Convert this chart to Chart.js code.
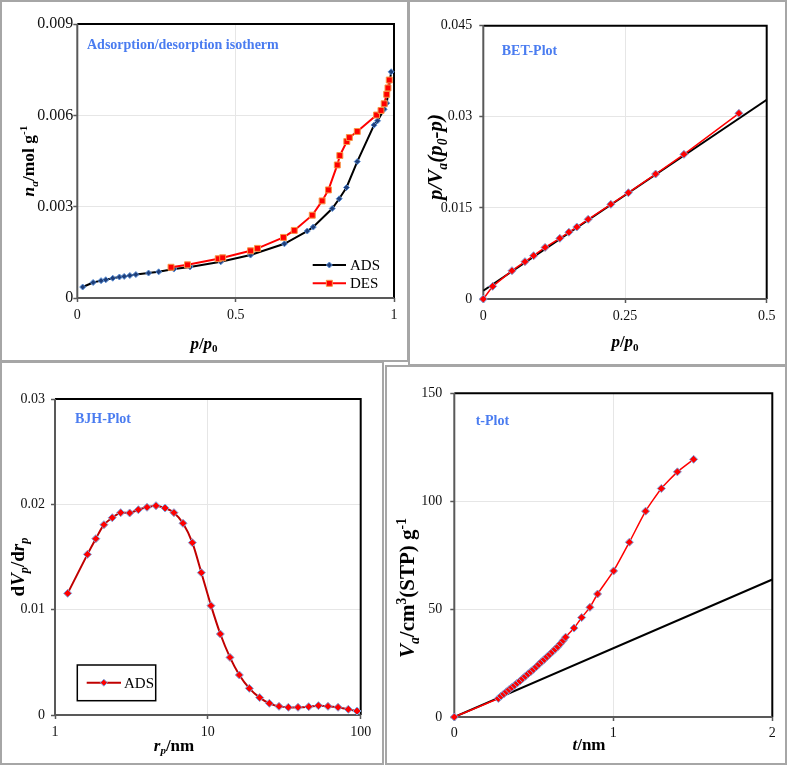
<!DOCTYPE html>
<html><head><meta charset="utf-8">
<script src="https://cdn.jsdelivr.net/npm/chart.js@4.4.1/dist/chart.umd.min.js"></script>
<style>
html,body{margin:0;padding:0;background:#fff;}
body{width:787px;height:765px;position:relative;overflow:hidden;}
canvas{position:absolute;left:0;top:0;}
.box{position:absolute;border:2px solid #a6a6a6;box-sizing:border-box;}
</style></head><body>
<div class="box" style="left:0;top:0;width:409px;height:362px"></div>
<div class="box" style="left:408px;top:0;width:379px;height:366px"></div>
<div class="box" style="left:0;top:361px;width:384px;height:404px"></div>
<div class="box" style="left:385px;top:365px;width:402px;height:400px"></div>
<canvas id="c1" width="787" height="765"></canvas>
<canvas id="c2" width="787" height="765"></canvas>
<canvas id="c3" width="787" height="765"></canvas>
<canvas id="c4" width="787" height="765"></canvas>
<script>
// ---------- DATA ----------
// Adsorption / desorption isotherm
const isoAdsX = [0.017,0.05,0.075,0.09,0.112,0.133,0.148,0.166,0.185,0.225,0.257,0.305,0.356,0.453,0.547,0.654,0.726,0.745,0.805,0.827,0.85,0.884,0.937,0.948,0.969,0.977,0.991];
const isoAdsY = [0.00036,0.00051,0.00057,0.0006,0.00065,0.00069,0.00071,0.00074,0.00077,0.00082,0.00086,0.00095,0.00102,0.00119,0.00141,0.00178,0.0022,0.00233,0.00294,0.00326,0.00363,0.00448,0.00568,0.00582,0.0062,0.0064,0.00743];
const isoDesX = [0.296,0.348,0.445,0.459,0.547,0.569,0.651,0.685,0.742,0.773,0.793,0.821,0.829,0.851,0.859,0.884,0.945,0.959,0.969,0.977,0.981,0.985];
const isoDesY = [0.00101,0.00109,0.00129,0.00132,0.00155,0.00163,0.00199,0.00222,0.00272,0.00319,0.00355,0.00437,0.00468,0.00514,0.00527,0.00547,0.00601,0.00616,0.00638,0.00669,0.0069,0.00716];
const isoXTicks = [0,0.5,1];
const isoXLabels = ['0','0.5','1'];
const isoYTicks = [0,0.003,0.006,0.009];
const isoYLabels = ['0','0.003','0.006','0.009'];

// BET plot
const betX = [0,0.0165,0.0506,0.0735,0.0888,0.109,0.135,0.151,0.165,0.185,0.225,0.256,0.304,0.354,0.451];
const betY = [0,0.00208,0.00466,0.00615,0.00713,0.0085,0.00999,0.0110,0.01185,0.01312,0.01559,0.0175,0.02058,0.02382,0.03057];
const betFitX = [0,0.5];
const betFitY = [0.00137,0.0328];
const betXTicks = [0,0.25,0.5];
const betXLabels = ['0','0.25','0.5'];
const betYTicks = [0,0.015,0.03,0.045];
const betYLabels = ['0','0.015','0.03','0.045'];

// BJH plot
const bjhR = [1.21,1.63,1.85,2.09,2.37,2.69,3.08,3.51,4.0,4.58,5.25,6.0,6.88,7.92,9.07,10.49,12.07,13.96,16.07,18.69,21.83,25.26,29.22,33.63,38.9,45.7,52.9,61.1,71.1,83.0,94.6];
const bjhDv = [0.01155,0.01525,0.01674,0.01807,0.01873,0.01921,0.01918,0.01949,0.01972,0.01987,0.01965,0.01921,0.0182,0.01636,0.01351,0.01038,0.00769,0.00547,0.0038,0.00253,0.00165,0.00111,0.00082,0.00073,0.00073,0.00079,0.00089,0.00082,0.00073,0.00054,0.00038];
const bjhXTicks = [1,10,100];
const bjhXLabels = ['1','10','100'];
const bjhYTicks = [0,0.01,0.02,0.03];
const bjhYLabels = ['0','0.01','0.02','0.03'];

// t-plot
const tT = [0,0.277,0.294,0.311,0.328,0.345,0.362,0.379,0.396,0.413,0.430,0.447,0.464,0.481,0.498,0.515,0.532,0.549,0.566,0.583,0.600,0.617,0.634,0.651,0.668,0.685,0.700,0.753,0.801,0.853,0.901,1.002,1.101,1.203,1.302,1.403,1.505];
const tV = [0,8.6,9.7,10.7,11.7,12.7,13.7,14.7,15.7,16.7,17.8,18.9,20.0,21.0,22.1,23.2,24.4,25.6,26.7,27.9,29.0,30.2,31.4,32.6,34.0,35.5,37.0,41.2,46.1,50.8,57.0,67.7,81.0,95.4,105.9,113.6,119.4];
const tFitX = [0,2];
const tFitY = [0,63.7];
const tXTicks = [0,1,2];
const tXLabels = ['0','1','2'];
const tYTicks = [0,50,100,150];
const tYLabels = ['0','50','100','150'];

// ---------- HELPERS ----------
const FONT = '"Liberation Serif","Times New Roman",serif';
const pts = (xs, ys) => xs.map((x, i) => ({x: x, y: ys[i]}));

function segFont(s, size) {
  const sz = (s.sub || s.sup) ? size * 0.65 : size;
  return (s.i ? 'italic ' : '') + (s.b === false ? '' : 'bold ') + sz + 'px ' + FONT;
}
function drawRich(ctx, segs, cx, cy, size, rot) {
  ctx.save();
  ctx.translate(cx, cy);
  if (rot) ctx.rotate(-Math.PI / 2);
  let w = 0;
  const ws = segs.map(s => { ctx.font = segFont(s, size); const m = ctx.measureText(s.t).width; w += m; return m; });
  let x = -w / 2;
  ctx.fillStyle = '#000';
  ctx.textBaseline = 'alphabetic';
  ctx.textAlign = 'left';
  segs.forEach((s, k) => {
    ctx.font = segFont(s, size);
    let dy = size * 0.33;
    if (s.sub) dy += size * 0.22;
    if (s.sup) dy -= size * 0.38;
    ctx.fillText(s.t, x, dy);
    x += ws[k];
  });
  ctx.restore();
}
function drawMarker(ctx, m, x, y) {
  ctx.save();
  ctx.fillStyle = m.fill; ctx.strokeStyle = m.stroke; ctx.lineWidth = 1;
  ctx.beginPath();
  if (m.style === 'rect') {
    ctx.rect(x - m.r, y - m.r, 2 * m.r, 2 * m.r);
  } else {
    ctx.moveTo(x, y - m.r); ctx.lineTo(x + m.r, y); ctx.lineTo(x, y + m.r); ctx.lineTo(x - m.r, y); ctx.closePath();
  }
  ctx.fill(); ctx.stroke();
  ctx.restore();
}

const deco = {
  id: 'deco',
  beforeDatasetsDraw(chart, args, o) {
    const ctx = chart.ctx, a = chart.chartArea;
    ctx.save();
    ctx.lineWidth = 2;
    ctx.strokeStyle = '#000';
    ctx.beginPath(); ctx.moveTo(a.left, a.top); ctx.lineTo(a.right, a.top); ctx.lineTo(a.right, a.bottom); ctx.stroke();
    ctx.strokeStyle = '#595959';
    ctx.beginPath(); ctx.moveTo(a.left, a.top); ctx.lineTo(a.left, a.bottom); ctx.lineTo(a.right, a.bottom); ctx.stroke();
    ctx.restore();
  },
  afterDraw(chart, args, o) {
    const ctx = chart.ctx;
    ctx.save();
    // title inside plot
    ctx.font = 'bold 14px ' + FONT;
    ctx.fillStyle = '#4a7cf0';
    ctx.textAlign = 'left'; ctx.textBaseline = 'middle';
    ctx.fillText(o.title.text, o.title.x, o.title.y);
    // axis titles
    drawRich(ctx, o.xTitle.segs, o.xTitle.x, o.xTitle.y, o.xTitle.size, false);
    drawRich(ctx, o.yTitle.segs, o.yTitle.x, o.yTitle.y, o.yTitle.size, true);
    // legend
    if (o.legendBox) {
      const b = o.legendBox;
      ctx.lineWidth = 1.5; ctx.strokeStyle = '#000';
      ctx.strokeRect(b.x, b.y, b.w, b.h);
    }
    (o.legend || []).forEach(it => {
      ctx.strokeStyle = it.color; ctx.lineWidth = it.lw;
      ctx.beginPath(); ctx.moveTo(it.x1, it.y); ctx.lineTo(it.x2, it.y); ctx.stroke();
      drawMarker(ctx, it.marker, (it.x1 + it.x2) / 2, it.y);
      ctx.font = '15px ' + FONT; ctx.fillStyle = '#000';
      ctx.textAlign = 'left'; ctx.textBaseline = 'middle';
      ctx.fillText(it.text, it.tx, it.y + 1);
    });
    ctx.restore();
  }
};

function axis(type, min, max, ticks, labels, isY, tl, pad, size) {
  return {
    type: type, min: min, max: max,
    afterBuildTicks: s => { s.ticks = ticks.map(v => ({value: v})); },
    afterFit: s => { if (isY) s.width = 50; else s.height = 50; },
    border: {display: false},
    grid: {
      color: c => (c.index > 0 && c.index < ticks.length - 1) ? '#e6e6e6' : 'rgba(0,0,0,0)',
      lineWidth: 1, drawTicks: true, tickLength: tl, tickColor: '#595959', tickWidth: 1.5
    },
    ticks: {
      padding: pad, color: '#111', font: {family: FONT, size: size},
      callback: (v, i) => labels[i], maxRotation: 0, autoSkip: false
    }
  };
}

function makeChart(id, rect, datasets, scales, decoOpts) {
  const W = 787, H = 765;
  return new Chart(document.getElementById(id), {
    type: 'scatter',
    data: {datasets: datasets},
    options: {
      responsive: false, animation: false, devicePixelRatio: 1, events: [],
      layout: {padding: {left: rect.L - 50, top: rect.T, right: W - rect.R, bottom: H - rect.B - 50}},
      scales: scales,
      plugins: {legend: {display: false}, tooltip: {enabled: false}, deco: decoOpts}
    },
    plugins: [deco]
  });
}

// ---------- PANEL 1 ----------
makeChart('c1', {L: 77.3, T: 24, R: 394, B: 298}, [
  {data: pts(isoDesX, isoDesY), showLine: true, borderColor: '#ff0000', borderWidth: 2,
   pointStyle: 'rect', pointRadius: 4.2, pointBackgroundColor: '#ff0000', pointBorderColor: '#f79646', pointBorderWidth: 1, clip: 8},
  {data: pts(isoAdsX, isoAdsY), showLine: true, borderColor: '#000', borderWidth: 2,
   pointStyle: 'rectRot', pointRadius: 3, pointBackgroundColor: '#1f3f7a', pointBorderColor: '#5b8fd6', pointBorderWidth: 1, clip: 8}
], {
  x: axis('linear', 0, 1, isoXTicks, isoXLabels, false, 4, 5, 14),
  y: axis('linear', 0, 0.009, isoYTicks, isoYLabels, true, 4, 0, 16)
}, {
  title: {text: 'Adsorption/desorption isotherm', x: 87, y: 45},
  xTitle: {x: 204, y: 343, size: 17, segs: [{t: 'p', i: 1}, {t: '/'}, {t: 'p', i: 1}, {t: '0', sub: 1}]},
  yTitle: {x: 28, y: 161, size: 17.5, segs: [{t: 'n', i: 1}, {t: 'a', i: 1, sub: 1}, {t: '/mol g'}, {t: '-1', sup: 1}]},
  legend: [
    {x1: 312.7, x2: 346, y: 265, color: '#000', lw: 2, text: 'ADS', tx: 350,
     marker: {style: 'diamond', r: 3, fill: '#1f3f7a', stroke: '#5b8fd6'}},
    {x1: 312.7, x2: 346, y: 283.3, color: '#ff0000', lw: 2, text: 'DES', tx: 350,
     marker: {style: 'rect', r: 3, fill: '#ff0000', stroke: '#f79646'}}
  ]
});

// ---------- PANEL 2 ----------
makeChart('c2', {L: 483.3, T: 25.7, R: 766.7, B: 299}, [
  {data: pts(betX, betY), showLine: true, borderColor: '#ff0000', borderWidth: 1.5,
   pointStyle: 'rectRot', pointRadius: 4, pointBackgroundColor: '#ff0000', pointBorderColor: '#7aa6e0', pointBorderWidth: 1, clip: 8},
  {data: pts(betFitX, betFitY), showLine: true, borderColor: '#000', borderWidth: 2, pointRadius: 0}
], {
  x: axis('linear', 0, 0.5, betXTicks, betXLabels, false, 4, 5, 14),
  y: axis('linear', 0, 0.045, betYTicks, betYLabels, true, 4, 7, 14)
}, {
  title: {text: 'BET-Plot', x: 501.7, y: 51.7},
  xTitle: {x: 625, y: 341.7, size: 17, segs: [{t: 'p', i: 1}, {t: '/'}, {t: 'p', i: 1}, {t: '0', sub: 1}]},
  yTitle: {x: 435, y: 157, size: 21, segs: [{t: 'p/V', i: 1}, {t: 'a', i: 1, sub: 1}, {t: '(p', i: 1}, {t: '0', i: 1, sub: 1}, {t: '-p)', i: 1}]}
});

// ---------- PANEL 3 ----------
makeChart('c3', {L: 55, T: 399, R: 360.7, B: 715}, [
  {data: pts(bjhR, bjhDv), showLine: true, borderColor: '#c00000', borderWidth: 2, tension: 0.25,
   pointStyle: 'rectRot', pointRadius: 4, pointBackgroundColor: '#ff0000', pointBorderColor: '#7aa6e0', pointBorderWidth: 1, clip: 8}
], {
  x: axis('logarithmic', 1, 100, bjhXTicks, bjhXLabels, false, 4, 5, 14),
  y: axis('linear', 0, 0.03, bjhYTicks, bjhYLabels, true, 4, 6, 14)
}, {
  title: {text: 'BJH-Plot', x: 75, y: 419},
  xTitle: {x: 174, y: 745, size: 17, segs: [{t: 'r', i: 1}, {t: 'p', i: 1, sub: 1}, {t: '/nm'}]},
  yTitle: {x: 17.5, y: 567, size: 19, segs: [{t: 'd'}, {t: 'V', i: 1}, {t: 'p', i: 1, sub: 1}, {t: '/d'}, {t: 'r', i: 1}, {t: 'p', i: 1, sub: 1}]},
  legendBox: {x: 77.3, y: 665, w: 78.4, h: 35.7},
  legend: [
    {x1: 86.7, x2: 121, y: 682.7, color: '#c00000', lw: 2, text: 'ADS', tx: 124,
     marker: {style: 'diamond', r: 3.5, fill: '#ff0000', stroke: '#7aa6e0'}}
  ]
});

// ---------- PANEL 4 ----------
makeChart('c4', {L: 454.3, T: 393.3, R: 772.3, B: 717}, [
  {data: pts(tT, tV), showLine: true, borderColor: '#ff0000', borderWidth: 1.5, tension: 0.15,
   pointStyle: 'rectRot', pointRadius: 4, pointBackgroundColor: '#ff0000', pointBorderColor: '#7aa6e0', pointBorderWidth: 1, clip: 8},
  {data: pts(tFitX, tFitY), showLine: true, borderColor: '#000', borderWidth: 2, pointRadius: 0}
], {
  x: axis('linear', 0, 2, tXTicks, tXLabels, false, 4, 4, 14),
  y: axis('linear', 0, 150, tYTicks, tYLabels, true, 4, 8, 14)
}, {
  title: {text: 't-Plot', x: 475.7, y: 421.7},
  xTitle: {x: 589, y: 744, size: 17, segs: [{t: 't', i: 1}, {t: '/nm'}]},
  yTitle: {x: 407.5, y: 588, size: 21, segs: [{t: 'V', i: 1}, {t: 'a', i: 1, sub: 1}, {t: '/cm'}, {t: '3', sup: 1}, {t: '(STP) g'}, {t: '-1', sup: 1}]}
});
</script>
</body></html>
